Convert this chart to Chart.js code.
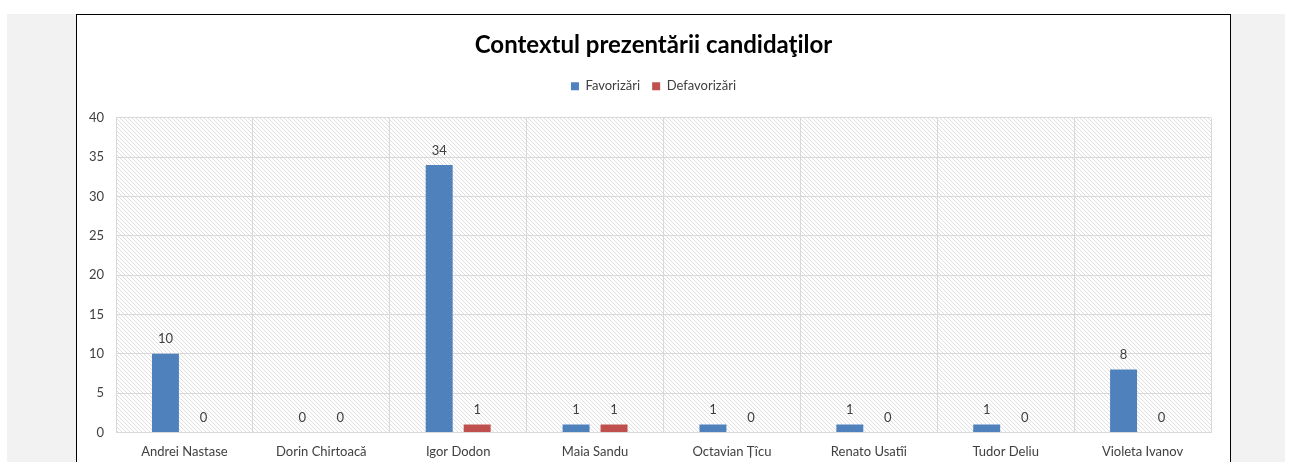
<!DOCTYPE html>
<html lang="ro">
<head>
<meta charset="utf-8">
<title>Contextul prezentării candidaţilor</title>
<script src="https://cdn.jsdelivr.net/npm/chart.js@4.4.1/dist/chart.umd.min.js"></script>
<style>
    html, body {
        margin: 0;
        padding: 0;
        background: #ffffff;
        overflow: hidden;
    }
    .backdrop {
        position: absolute;
        left: 7px;
        top: 14px;
        width: 1278px;
        height: 460px;
        background: #f2f2f2;
    }
    .box {
        position: absolute;
        left: 76px;
        top: 14px;
        width: 1155px;
        height: 470px;
        background: #ffffff;
        border: 1px solid #000000;
        box-sizing: border-box;
    }
    #myChart {
        position: absolute;
        left: 0;
        top: 0;
    }
</style>
</head>
<body>
<div class="backdrop"></div>
<div class="box">
    <canvas id="myChart" width="1153" height="457"></canvas>
</div>
<script>
// candidates and counts
const candidati = ['Andrei Nastase', 'Dorin Chirtoacă', 'Igor Dodon', 'Maia Sandu',
                   'Octavian Țîcu', 'Renato Usatîi', 'Tudor Deliu', 'Violeta Ivanov'];
const favorizari = [10, 0, 34, 1, 1, 1, 1, 8];
const defavorizari = [0, 0, 1, 1, 0, 0, 0, 0];
const yTicks = [0, 5, 10, 15, 20, 25, 30, 35, 40];

const fontFam = 'Lato, "Liberation Sans", sans-serif';

// diagonal hatch for the plot background
function makeHatch() {
    const c = document.createElement('canvas');
    c.width = 4;
    c.height = 4;
    const g = c.getContext('2d');
    g.fillStyle = '#ffffff';
    g.fillRect(0, 0, 4, 4);
    g.strokeStyle = '#dedede';
    g.lineWidth = 1;
    g.beginPath();
    g.moveTo(-1, -1); g.lineTo(5, 5);
    g.moveTo(-1, 3); g.lineTo(1, 5);
    g.moveTo(3, -1); g.lineTo(5, 1);
    g.stroke();
    return g.createPattern(c, 'repeat');
}

const hatchBg = {
    id: 'hatchBg',
    beforeDraw(chart) {
        const a = chart.chartArea;
        const ctx = chart.ctx;
        ctx.save();
        ctx.fillStyle = makeHatch();
        ctx.fillRect(a.left, a.top, a.right - a.left, a.bottom - a.top);
        ctx.restore();
    }
};

// extra gap under the legend, title + legend centred on the whole canvas
const headerFix = {
    id: 'headerFix',
    beforeLayout(chart) {
        const lg = chart.legend;
        if (lg && !lg._gapDone) {
            const fit = lg.fit;
            lg.fit = function () {
                fit.call(this);
                this.height += 15;
            };
            lg._gapDone = true;
        }
    },
    afterLayout(chart) {
        [chart.titleBlock, chart.legend].forEach(b => {
            if (!b) return;
            b.left = 0;
            b.right = chart.width;
            b.width = chart.width;
        });
    }
};

// value labels above each bar (zeros included)
const barValues = {
    id: 'barValues',
    afterDatasetsDraw(chart) {
        const ctx = chart.ctx;
        ctx.save();
        ctx.font = '13px ' + fontFam;
        ctx.fillStyle = '#404040';
        ctx.textAlign = 'center';
        ctx.textBaseline = 'bottom';
        chart.data.datasets.forEach((ds, i) => {
            chart.getDatasetMeta(i).data.forEach((bar, j) => {
                ctx.fillText(String(ds.data[j]), bar.x, bar.y - 8);
            });
        });
        ctx.restore();
    }
};

const data = {
    labels: candidati,
    datasets: [{
        label: 'Favorizări',
        data: favorizari,
        backgroundColor: '#4f81bd',
        categoryPercentage: 0.555,
        barPercentage: 0.71
    },
    {
        label: 'Defavorizări',
        data: defavorizari,
        backgroundColor: '#c0504d',
        categoryPercentage: 0.555,
        barPercentage: 0.71
    }]
};

const config = {
    type: 'bar',
    data: data,
    plugins: [hatchBg, headerFix, barValues],
    options: {
        responsive: false,
        animation: false,
        layout: {
            padding: { left: 0, right: 19, top: 0, bottom: 0 }
        },
        scales: {
            x: {
                grid: {
                    color: '#d9d9d9',
                    lineWidth: 1,
                    drawTicks: false
                },
                border: { color: '#d9d9d9' },
                ticks: {
                    color: '#404040',
                    padding: 12,
                    font: { family: fontFam, size: 13 }
                }
            },
            y: {
                min: 0,
                max: 40,
                afterBuildTicks(axis) {
                    axis.ticks = yTicks.map(v => ({ value: v }));
                },
                afterFit(axis) {
                    axis.width = 39;
                },
                grid: {
                    color: '#d9d9d9',
                    lineWidth: 1,
                    drawTicks: false
                },
                border: { color: '#d9d9d9' },
                ticks: {
                    color: '#404040',
                    padding: 12,
                    font: { family: fontFam, size: 13 }
                }
            }
        },
        plugins: {
            title: {
                display: true,
                text: 'Contextul prezentării candidaţilor',
                color: '#000000',
                font: { family: fontFam, size: 24, weight: 'bold' },
                padding: { top: 16, bottom: 8 }
            },
            legend: {
                display: true,
                position: 'top',
                labels: {
                    boxWidth: 8,
                    boxHeight: 8,
                    color: '#404040',
                    padding: 12,
                    font: { family: fontFam, size: 13 }
                }
            },
            tooltip: { enabled: false }
        }
    }
};

const myChart = new Chart(document.getElementById('myChart'), config);
</script>
</body>
</html>
